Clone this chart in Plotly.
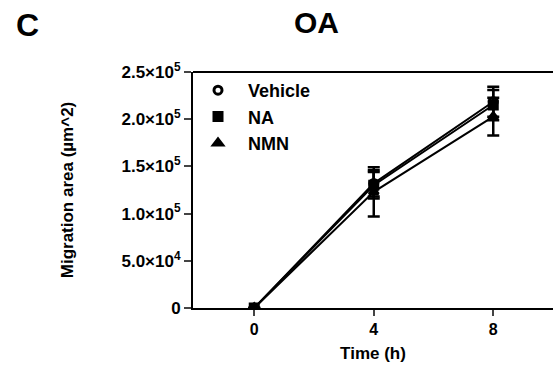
import plotly.graph_objects as go

times = [0, 4, 8]
series_names = ["Vehicle", "NA", "NMN"]
vehicle = [0, 132000, 218500]
na = [0, 130000, 215000]
nmn = [0, 123000, 202700]
vehicle_err = [0, 14000, 16000]
na_err = [0, 14000, 16000]
nmn_err = [0, 26000, 20000]
y_tickvals = [0, 50000, 100000, 150000, 200000, 250000]
y_ticktext = ["0", "5.0×10<sup>4</sup>", "1.0×10<sup>5</sup>", "1.5×10<sup>5</sup>",
              "2.0×10<sup>5</sup>", "2.5×10<sup>5</sup>"]
x_tickvals = [0, 4, 8]

symbols = ["circle-open", "square", "triangle-up"]
sizes = [8, 8, 8]
values = [vehicle, na, nmn]
errs = [vehicle_err, na_err, nmn_err]

fig = go.Figure()
for name, v, e, s, sz in zip(series_names, values, errs, symbols, sizes):
    fig.add_trace(go.Scatter(
        x=times, y=v, mode="lines+markers", showlegend=False,
        line=dict(color="black", width=2),
        marker=dict(symbol=s, size=sz, color="black", line=dict(color="black", width=3)),
        error_y=dict(type="data", array=e, color="black", thickness=2.5, width=6),
    ))
for name, s, sz in zip(series_names, symbols, sizes):
    fig.add_trace(go.Scatter(
        x=[None], y=[None], mode="markers", name="\u00a0\u00a0" + name,
        marker=dict(symbol=s, size=sz, color="black", line=dict(color="black", width=3)),
    ))

font = "Liberation Sans, Arial, sans-serif"
fig.update_layout(
    width=555, height=368,
    margin=dict(l=193, r=2, t=72, b=60),
    plot_bgcolor="white", paper_bgcolor="white",
    font=dict(family=font, color="black"),
    showlegend=True,
    legend=dict(x=5 / 360, y=1.0, xanchor="left", yanchor="top", bgcolor="rgba(0,0,0,0)",
                font=dict(size=18, family=font, weight="bold"), tracegroupgap=0, itemwidth=30),
    xaxis=dict(range=[-2.05, 10], tickvals=x_tickvals, ticktext=["<b>%d</b>" % t for t in x_tickvals],
               ticks="outside", ticklen=6,
               tickwidth=2, showline=True, linewidth=2, linecolor="black",
               mirror=False, showgrid=False, zeroline=False,
               tickfont=dict(size=16, family=font),
               title=dict(text="<b>Time (h)</b>", font=dict(size=17), standoff=10)),
    yaxis=dict(range=[0, 250000], tickvals=y_tickvals, ticktext=["<b>" + t + "</b>" for t in y_ticktext],
               ticks="outside", ticklen=7, tickwidth=2, showline=True, linewidth=2,
               linecolor="black", showgrid=False, zeroline=False,
               tickfont=dict(size=17, family=font),
               title=dict(text="<b>Migration area (µm^2)</b>", font=dict(size=17), standoff=44)),
)
fig.add_shape(type="line", xref="paper", yref="paper", x0=0, x1=1, y0=1, y1=1,
              line=dict(color="black", width=2))
fig.add_annotation(text="<b>OA</b>", xref="paper", yref="paper", x=(316 - 193) / 360, y=1,
                   yshift=50, xanchor="center", yanchor="middle", showarrow=False,
                   font=dict(size=30, family=font))
fig.add_annotation(text="<b>C</b>", xref="paper", yref="paper", x=(27 - 193) / 360, y=1,
                   yshift=47, xanchor="center", yanchor="middle", showarrow=False,
                   font=dict(size=32, family=font))
fig.write_html("out.html")
